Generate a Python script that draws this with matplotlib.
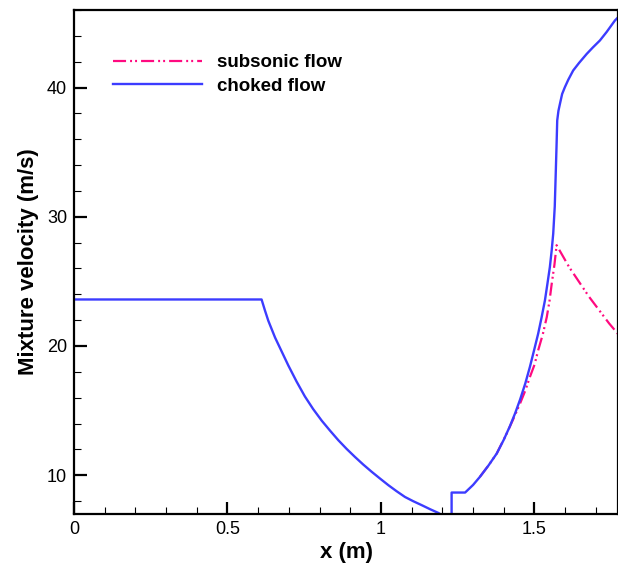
import matplotlib
matplotlib.use("Agg")
import matplotlib.pyplot as plt

plt.rcParams['font.family'] = ['Liberation Sans', 'DejaVu Sans']
plt.rcParams['lines.scale_dashes'] = False

# choked flow (blue)
choked_x = [0.0, 0.611, 0.622, 0.633, 0.655, 0.677, 0.698, 0.725, 0.752, 0.779, 0.807, 0.834, 0.861,
            0.888, 0.915, 0.942, 0.970, 0.997, 1.024, 1.051, 1.078, 1.105, 1.133, 1.160,
            1.187, 1.205, 1.230, 1.230, 1.274, 1.300, 1.322, 1.350, 1.377, 1.400, 1.420,
            1.437, 1.453, 1.470, 1.485, 1.500, 1.512, 1.523, 1.534, 1.542, 1.550, 1.556,
            1.561, 1.566, 1.569, 1.572, 1.574, 1.578, 1.583, 1.590, 1.599, 1.610, 1.626,
            1.645, 1.670, 1.690, 1.713, 1.735, 1.762, 1.775]
choked_y = [23.6, 23.6, 22.75, 21.95, 20.65, 19.55, 18.5, 17.25, 16.1, 15.12, 14.22, 13.45, 12.71,
            12.04, 11.42, 10.83, 10.26, 9.74, 9.23, 8.76, 8.32, 7.99, 7.68, 7.37,
            7.08, 6.8, 6.6, 8.66, 8.66, 9.25, 9.87, 10.75, 11.68, 12.75, 13.8,
            14.8, 15.85, 17.1, 18.38, 19.8, 20.96, 22.2, 23.53, 24.8, 26.1, 27.4,
            28.7, 30.8, 33.2, 35.65, 37.45, 38.2, 38.75, 39.5, 40.03, 40.6, 41.32,
            41.9, 42.6, 43.1, 43.64, 44.3, 45.19, 45.5]

# subsonic flow (pink), where it departs from the choked curve
sub_x = [1.322, 1.350, 1.377, 1.409, 1.430, 1.453, 1.470, 1.485, 1.500, 1.512, 1.527,
         1.540, 1.549, 1.556, 1.565, 1.572, 1.613, 1.678, 1.743, 1.775]
sub_y = [9.87, 10.75, 11.68, 13.2, 14.3, 15.55, 16.55, 17.6, 18.55, 19.67, 20.9,
         22.24, 23.5, 24.8, 26.3, 27.8, 26.1, 23.8, 21.75, 20.85]

xticks = [0, 0.5, 1, 1.5]
xtick_labels = ['0', '0.5', '1', '1.5']
yticks = [10, 20, 30, 40]

fig = plt.figure(figsize=(6.18, 5.65), dpi=100)
ax = fig.add_axes([74/618, 1-514/565, 1-74/618, (514-10)/565])

ax.plot(sub_x, sub_y, color='#ff0a80', lw=1.6,
        linestyle=(0, (9.4, 2.9, 1.4, 2.2, 1.4, 2.9)), label='subsonic flow')
ax.plot(choked_x, choked_y, color='#3c3cff', lw=1.7, label='choked flow')

ax.set_xlim(0, 1.772)
ax.set_ylim(7, 46)
ax.set_xticks(xticks)
ax.set_xticklabels(xtick_labels)
ax.set_yticks(yticks)
ax.set_xticks([i/10 for i in range(0, 18)], minor=True)
ax.set_yticks(list(range(8, 47, 2)), minor=True)
ax.tick_params(which='major', direction='in', length=9, width=1.6, labelsize=13, pad=5)
ax.tick_params(which='minor', direction='in', length=5, width=0.8)
for s in ax.spines.values():
    s.set_linewidth(1.6)

ax.set_xlabel('x (m)', fontsize=16, fontweight='bold', labelpad=3)
ax.set_ylabel('Mixture velocity (m/s)', fontsize=16, fontweight='bold', labelpad=6)

leg = ax.legend(loc='upper left', bbox_to_anchor=(0.0715, 0.912), frameon=False,
                prop={'weight': 'bold', 'size': 13.5}, handlelength=4.75,
                handletextpad=0.8, labelspacing=0.33, borderaxespad=0, borderpad=0)

fig.savefig('out.png', dpi=100)
